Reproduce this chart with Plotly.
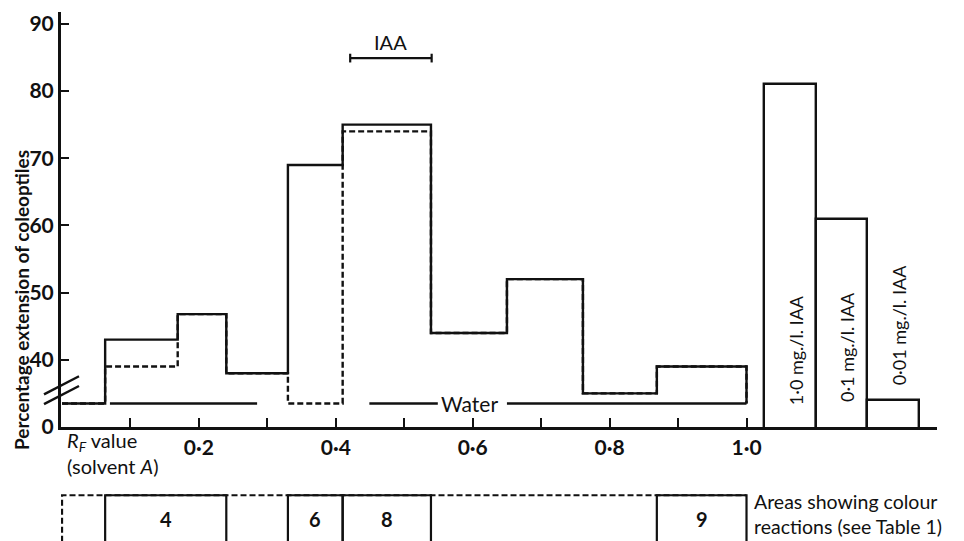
import plotly.graph_objects as go

# ---------------- data ----------------
# Rf bin edges of the chromatogram strips (solvent A)
rf_edges = [0.0, 0.063, 0.169, 0.24, 0.33, 0.41, 0.539, 0.65, 0.761, 0.869, 1.0]
# Percentage extension of coleoptiles, on the plotted (broken) scale:
# the axis is broken below 40 and its "0" label sits where 30 would be.
ext_solid = [33.5, 43, 46.8, 38, 69, 75, 44, 52, 35, 39]
ext_dashed = [33.5, 39, 46.8, 38, 33.5, 74, 44, 52, 35, 39]
water_level = 33.5
water_spans = [(0.07, 0.285), (0.449, 0.549), (0.65, 1.0)]
water_label_rf = 0.596

# IAA standards
std_labels = ["1·0 mg./l. IAA", "0·1 mg./l. IAA", "0·01 mg./l. IAA"]
std_edges = [1.0256, 1.1015, 1.176, 1.252]
std_values = [81, 61, 34]
std_label_y = [41.5, 41.9, 45.2]

# IAA marker on the chromatogram
iaa_span = (0.421, 0.540)
iaa_level = 84.9

# axis ticks
axis_zero = 30
y_tickvals = [30, 40, 50, 60, 70, 80, 90]
y_ticktext = ["0", "40", "50", "60", "70", "80", "90"]
x_tickvals = [0.2, 0.4, 0.6, 0.8, 1.0]
x_ticktext = ["0·2", "0·4", "0·6", "0·8", "1·0"]
x_minor_tickvals = [0.1, 0.3, 0.5, 0.7, 0.9]

# areas showing colour reactions (Rf start, Rf end, label)
area_starts = [0.063, 0.33, 0.41, 0.869]
area_ends = [0.24, 0.41, 0.539, 1.0]
area_labels = ["4", "6", "8", "9"]

# ---------------- layout geometry ----------------
BODY = 8                      # default page margin of the html body
W, H = 964 - BODY, 541 - BODY  # figure size so that it fills the window
ML, MR = 53, 27


def py(page_y):
    """page pixel row -> paper fraction"""
    return (H - (page_y - BODY)) / H


def px(page_x):
    """page pixel column -> paper fraction"""
    return (page_x - BODY - ML) / (W - ML - MR)


FONT = "Lato"
INK = "#111111"
fig = go.Figure()

# dashed histogram (drawn first, solid covers shared parts)
fig.add_trace(go.Scatter(
    x=rf_edges, y=ext_dashed + [water_level], mode="lines", line_shape="hv",
    line=dict(color=INK, width=2.4, dash="6px,3px"), hoverinfo="skip"))
# solid histogram
fig.add_trace(go.Scatter(
    x=rf_edges, y=ext_solid + [water_level], mode="lines", line_shape="hv",
    line=dict(color=INK, width=2.4), hoverinfo="skip"))

# water control line
wx, wy = [], []
for a, b in water_spans:
    wx += [a, b, None]
    wy += [water_level, water_level, None]
fig.add_trace(go.Scatter(x=wx, y=wy, mode="lines",
                         line=dict(color=INK, width=2.4), hoverinfo="skip"))

# IAA standard bars
centers = [(std_edges[i] + std_edges[i + 1]) / 2 for i in range(len(std_values))]
widths = [std_edges[i + 1] - std_edges[i] for i in range(len(std_values))]
fig.add_trace(go.Bar(x=centers, y=std_values, width=widths,
                     marker=dict(color="white", line=dict(color=INK, width=2.4)),
                     hoverinfo="skip"))

# IAA bracket
a, b = iaa_span
cap = 0.65
fig.add_trace(go.Scatter(
    x=[a, a, None, a, b, None, b, b],
    y=[iaa_level - cap, iaa_level + cap, None, iaa_level, iaa_level, None,
       iaa_level - cap, iaa_level + cap],
    mode="lines", line=dict(color=INK, width=2.2), hoverinfo="skip"))

# bottom strip: dashed outline of the chromatogram
fig.add_trace(go.Scatter(
    x=[rf_edges[0], rf_edges[0], rf_edges[-1]], y=[-1, 1, 1],
    mode="lines", line=dict(color=INK, width=2.2, dash="6px,3px"),
    xaxis="x2", yaxis="y2", hoverinfo="skip"))
bx, by = [], []
for s, e in zip(area_starts, area_ends):
    bx += [s, s, e, e, None]
    by += [-1, 1, 1, -1, None]
fig.add_trace(go.Scatter(x=bx, y=by, mode="lines",
                         line=dict(color=INK, width=2.2),
                         xaxis="x2", yaxis="y2", hoverinfo="skip"))

annotations = []
for s, e, lab in zip(area_starts, area_ends, area_labels):
    annotations.append(dict(x=(s + e) / 2, y=0.47, xref="x2", yref="y2", text=lab,
                            showarrow=False, font=dict(family=FONT, size=20, color=INK,
                                                       weight="bold")))
annotations.append(dict(x=1.008, y=0.6, xref="x", yref="y2",
                        text="Areas showing colour<br>reactions (see Table 1)",
                        xanchor="left", yanchor="middle", align="left", showarrow=False,
                        font=dict(family=FONT, size=19.5, color=INK)))

# standard labels
for c, lab, ly in zip(centers, std_labels, std_label_y):
    annotations.append(dict(x=c + 0.008, y=ly, xref="x", yref="y", text=lab,
                            textangle=-90, showarrow=False,
                            xanchor="center", yanchor="middle",
                            font=dict(family=FONT, size=18, color=INK)))

annotations.append(dict(x=water_label_rf, y=water_level, xref="x", yref="y",
                        text="Water", showarrow=False, bgcolor="white",
                        font=dict(family=FONT, size=21, color=INK)))
annotations.append(dict(x=(a + b) / 2, y=iaa_level + 2.4, xref="x", yref="y",
                        text="IAA", showarrow=False,
                        font=dict(family=FONT, size=20, color=INK)))
annotations.append(dict(x=0.004, y=py(453), xref="x", yref="paper",
                        text="<i>R</i><sub><i>F</i></sub> value<br>(solvent <i>A</i>)",
                        showarrow=False, xanchor="left", yanchor="middle", align="left",
                        font=dict(family=FONT, size=20, color=INK)))
annotations.append(dict(x=px(21), y=py(300), xref="paper", yref="paper",
                        text="Percentage extension of coleoptiles", textangle=-90,
                        showarrow=False, xanchor="center", yanchor="middle", borderpad=0,
                        font=dict(family=FONT, size=19, color=INK, weight="bold")))

# axis-break marks
shapes = []
for off in [0.0, 1.45]:
    shapes.append(dict(type="line", xref="paper", yref="y",
                       x0=px(44), x1=px(79), y0=axis_zero + 3.4 + off, y1=axis_zero + 6.1 + off,
                       line=dict(color=INK, width=2.4)))

fig.update_layout(
    template="none",
    width=W, height=H,
    margin=dict(l=ML, r=MR, t=0, b=0, autoexpand=False),
    paper_bgcolor="white", plot_bgcolor="white",
    font=dict(family=FONT, color=INK),
    showlegend=False, bargap=0,
    annotations=annotations, shapes=shapes,
    xaxis=dict(domain=[0, 1], range=[-0.0015, 1.2783], anchor="y", automargin=False,
               showline=True, linecolor=INK, linewidth=3,
               ticks="inside", ticklen=9, tickwidth=2.4, tickcolor=INK,
               tickvals=x_tickvals, ticktext=x_ticktext,
               minor=dict(tickvals=x_minor_tickvals, ticks="inside", ticklen=9,
                          tickwidth=2.4, tickcolor=INK, showgrid=False),
               tickfont=dict(family=FONT, size=21, color=INK, weight="bold"),
               showgrid=False, zeroline=False),
    yaxis=dict(domain=[py(427), py(12)], range=[axis_zero, 91.76],
               anchor="x", automargin=False, showline=True, linecolor=INK, linewidth=3,
               ticks="inside", ticklen=8, tickwidth=2.4, tickcolor=INK,
               tickvals=y_tickvals, ticktext=y_ticktext,
               tickfont=dict(family=FONT, size=21, color=INK, weight="bold"),
               showgrid=False, zeroline=False),
    xaxis2=dict(matches="x", anchor="y2", visible=False, domain=[0, 1]),
    yaxis2=dict(domain=[0, py(487)], range=[0, 1.18], anchor="x2", visible=False),
)

fig.write_html("out.html")
